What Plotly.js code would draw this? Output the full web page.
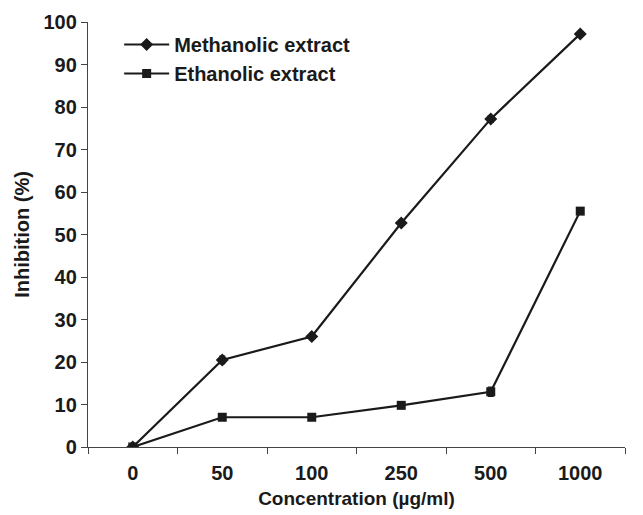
<!DOCTYPE html>
<html>
<head>
<meta charset="utf-8">
<script src="https://cdn.plot.ly/plotly-3.0.1.min.js"></script>
<style>html,body{margin:0;padding:0;background:#fff;}#chart{width:643px;height:515px;}</style>
</head>
<body>
<div id="chart"></div>
<script>
var categories = ["0", "50", "100", "250", "500", "1000"];
var methanolic = [0, 20.5, 26, 52.7, 77.2, 97.2];
var methanolicErr = [0, 0.9, 0.4, 0.5, 0.8, 0.4];
var ethanolic = [0, 7, 7, 9.8, 13, 55.5];
var ethanolicErr = [0, 0.5, 0.7, 0.4, 1.1, 0.6];
var yTicks = [0, 10, 20, 30, 40, 50, 60, 70, 80, 90, 100];

var fontFam = "Liberation Sans, Arial, Helvetica, sans-serif";
var ink = "#1a1a1a";

var traces = [
  {
    x: categories, y: methanolic, type: "scatter", mode: "lines+markers",
    name: "Methanolic extract", legendgroup: "m",
    line: {color: ink, width: 2.2},
    marker: {symbol: "diamond", size: 10, color: ink},
    error_y: {type: "data", array: methanolicErr, visible: true, color: ink, thickness: 1.2, width: 3}
  },
  {
    x: categories, y: ethanolic, type: "scatter", mode: "lines+markers",
    name: "Ethanolic extract", legendgroup: "e",
    line: {color: ink, width: 2.2},
    marker: {symbol: "square", size: 9, color: ink},
    error_y: {type: "data", array: ethanolicErr, visible: true, color: ink, thickness: 1.2, width: 3}
  }
];

var layout = {
  width: 643, height: 515,
  margin: {l: 88, r: 18, t: 22, b: 68},
  paper_bgcolor: "#fff", plot_bgcolor: "#fff",
  font: {family: fontFam, size: 19, color: ink, weight: "bold"},
  showlegend: true,
  legend: {
    x: 0.058, y: 0.993, xanchor: "left", yanchor: "top",
    bgcolor: "rgba(0,0,0,0)", borderwidth: 0, itemwidth: 45,
    font: {family: fontFam, size: 20, color: ink, weight: "bold"},
    tracegroupgap: 2, traceorder: "normal"
  },
  xaxis: {
    type: "category", range: [-0.5, 5.5],
    showline: true, linecolor: "#444", linewidth: 1.2,
    ticks: "outside", ticklen: 6, tickcolor: "#444", tickson: "boundaries",
    ticklabelstandoff: 8,
    showgrid: false, zeroline: false,
    tickfont: {family: fontFam, size: 20, color: ink, weight: "bold"},
    title: {text: "Concentration (µg/ml)", font: {family: fontFam, size: 19, color: ink, weight: "bold"}, standoff: 8}
  },
  yaxis: {
    range: [0, 100], tickvals: yTicks, ticktext: yTicks.map(String),
    showline: true, linecolor: "#444", linewidth: 1.2,
    ticks: "outside", ticklen: 6, tickcolor: "#444",
    showgrid: false, zeroline: false,
    tickfont: {family: fontFam, size: 20, color: ink, weight: "bold"},
    title: {text: "Inhibition (%)", font: {family: fontFam, size: 20, color: ink, weight: "bold"}, standoff: 8}
  }
};

Plotly.newPlot("chart", traces, layout, {displayModeBar: false, staticPlot: true});
</script>
</body>
</html>
